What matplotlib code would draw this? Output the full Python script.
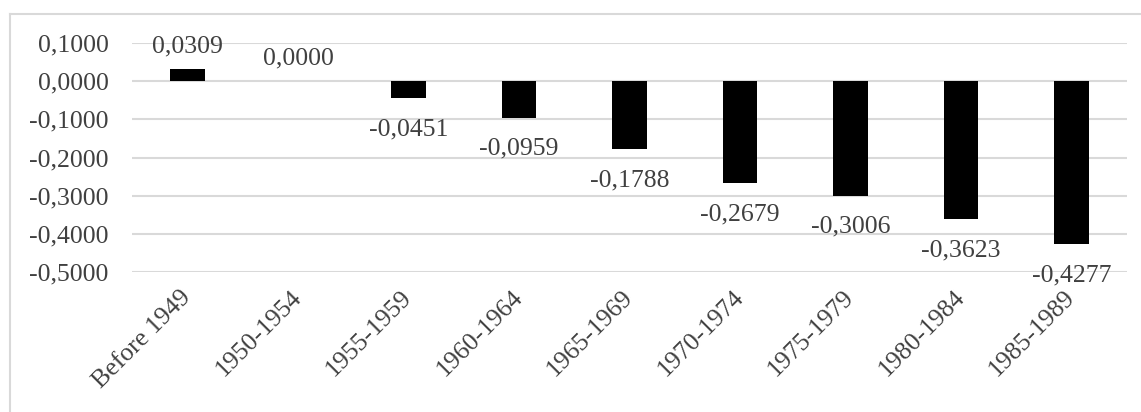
import matplotlib.pyplot as plt
from matplotlib.lines import Line2D

categories = ["Before 1949", "1950-1954", "1955-1959", "1960-1964", "1965-1969",
              "1970-1974", "1975-1979", "1980-1984", "1985-1989"]
values = [0.0309, 0.0000, -0.0451, -0.0959, -0.1788, -0.2679, -0.3006, -0.3623, -0.4277]
yticks = [0.1, 0.0, -0.1, -0.2, -0.3, -0.4, -0.5]

plt.rcParams["font.family"] = ["Liberation Serif", "DejaVu Serif"]
text_color = "#404040"
grid_color = "#D9D9D9"
fs = 18.5


def fmt(v):
    s = f"{v:.4f}".replace(".", ",")
    return "0,0000" if s == "-0,0000" else s


fig = plt.figure(figsize=(11.41, 4.12), dpi=100)
ax = fig.add_axes([132.25 / 1141, 1 - 272 / 412, 994.5 / 1141, 229 / 412])

x = range(len(categories))
ax.bar(x, values, width=0.31, color="black", linewidth=0, zorder=3)

for xi, v in zip(x, values):
    offset = 12.2 if v >= 0 else -26.6
    ax.annotate(fmt(v), (xi, v), xytext=(0, offset), textcoords="offset points",
                ha="center", va="baseline", fontsize=fs, color=text_color,
                annotation_clip=False, zorder=4)

ax.set_xlim(-0.5, len(categories) - 0.5)
ax.set_ylim(-0.5, 0.1)
ax.set_yticks(yticks)
ax.set_yticklabels([fmt(t) for t in yticks])
ax.set_xticks(list(x))
ax.set_xticklabels(categories, rotation=45, ha="right", va="center",
                   rotation_mode="anchor")
ax.tick_params(axis="y", length=0, pad=17, labelsize=fs, labelcolor=text_color)
ax.tick_params(axis="x", length=0, pad=16, labelsize=fs, labelcolor=text_color)
ax.grid(axis="y", color=grid_color, linewidth=1.5, zorder=0)
for s in ax.spines.values():
    s.set_visible(False)

# chart area border (only top/left visible in reference)
fig.add_artist(Line2D([10 / 1141, 10 / 1141], [-0.1, 1 - 14 / 412],
                      transform=fig.transFigure, color=grid_color, linewidth=1.5))
fig.add_artist(Line2D([10 / 1141, 1.1], [1 - 14 / 412, 1 - 14 / 412],
                      transform=fig.transFigure, color=grid_color, linewidth=1.5))

fig.savefig("out.png", dpi=100)
